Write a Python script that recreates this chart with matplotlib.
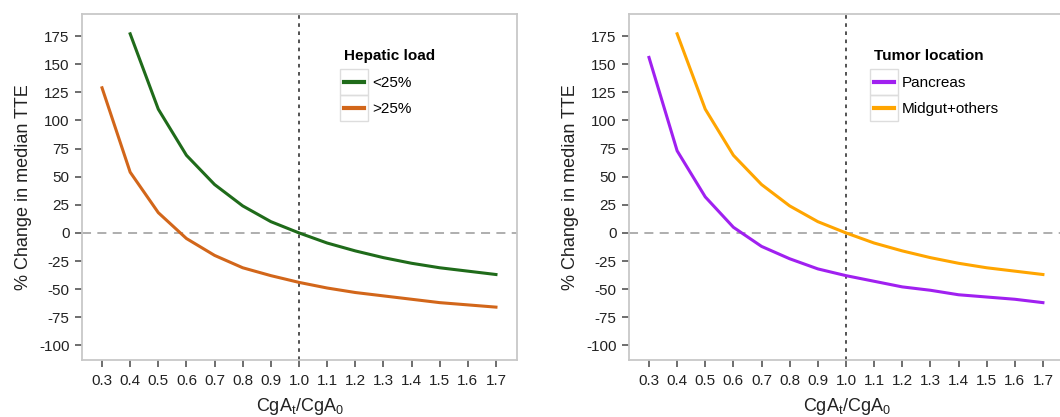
import numpy as np
import matplotlib.pyplot as plt
from matplotlib.patches import Rectangle

plt.rcParams['font.family'] = ['Liberation Sans', 'DejaVu Sans']

# ratio CgA_t / CgA_0
x_all = [0.3, 0.4, 0.5, 0.6, 0.7, 0.8, 0.9, 1.0, 1.1, 1.2, 1.3, 1.4, 1.5, 1.6, 1.7]
x_from04 = x_all[1:]

# % change in median TTE
low_load = [177, 110, 69, 43, 24, 10, 0, -9, -16, -22, -27, -31, -34, -37]          # <25%, starts at 0.4
high_load = [129, 54, 18, -5, -20, -31, -38, -44, -49, -53, -56, -59, -62, -64, -66]  # >25%
pancreas = [156, 73, 32, 5, -12, -23, -32, -38, -43, -48, -51, -55, -57, -59, -62]
midgut = [177, 110, 69, 43, 24, 10, 0, -9, -16, -22, -27, -31, -34, -37]            # starts at 0.4

panels = [
    ('Hepatic load', [(x_from04, low_load, '<25%', '#1f6b1a'),
                      (x_all, high_load, '>25%', '#d2661a')], 0.57),
    ('Tumor location', [(x_all, pancreas, 'Pancreas', '#a020f0'),
                        (x_from04, midgut, 'Midgut+others', '#ffa500')], 0.531),
]

fig = plt.figure(figsize=(10.6, 4.17), dpi=100)
lefts = [0.0774, 0.5934]
xticks = [0.3, 0.4, 0.5, 0.6, 0.7, 0.8, 0.9, 1.0, 1.1, 1.2, 1.3, 1.4, 1.5, 1.6, 1.7]
yticks = [175, 150, 125, 100, 75, 50, 25, 0, -25, -50, -75, -100]

legends = []
for left, (title, series, lx) in zip(lefts, panels):
    ax = fig.add_axes([left, 0.1367, 0.4104, 0.8297])
    ax.axhline(0, color='#a8a8a8', lw=1.3, ls=(0, (5, 3.5)), zorder=1)
    ax.axvline(1.0, color='#444444', lw=1.3, ls=(0, (2, 2.5)), zorder=1)
    for xs, ys, lab, col in series:
        ax.plot(xs, ys, color=col, lw=2.2, label=lab, zorder=3)
    ax.set_xlim(0.229, 1.775)
    ax.set_ylim(-113, 194.6)
    ax.set_xticks(xticks)
    ax.set_xticklabels(['%.1f' % v for v in xticks])
    ax.set_yticks(yticks)
    ax.set_yticklabels([str(v) for v in yticks])
    for s in ax.spines.values():
        s.set_color('#c8c8c8')
        s.set_linewidth(1.3)
    ax.tick_params(axis='both', labelsize=11, length=5, width=1.2,
                   color='#555555', labelcolor='#222222', pad=4)
    ax.tick_params(axis='x', pad=5)
    ax.set_ylabel('% Change in median TTE', fontsize=13, color='#222222', labelpad=5)
    ax.set_xlabel(r'CgA$_\mathregular{t}$/CgA$_\mathregular{0}$', fontsize=13,
                  color='#222222', labelpad=6)
    leg = ax.legend(loc='upper left', bbox_to_anchor=(lx, 0.94), frameon=False,
                    title=title, fontsize=11, handlelength=1.3, handletextpad=0.55,
                    labelspacing=0.75, alignment='left',
                    title_fontproperties={'weight': 'bold', 'size': 11})
    leg._legend_box.sep = 10
    for h in leg.get_lines():
        h.set_linewidth(3)
    legends.append(leg)

# light boxes around the legend keys
fig.canvas.draw()
for leg in legends:
    for h in leg.get_lines():
        bb = h.get_window_extent()
        x0, x1 = bb.x0 - 4, bb.x1 + 4
        yc = (bb.y0 + bb.y1) / 2
        fig.add_artist(Rectangle((x0 / fig.bbox.width, (yc - 13) / fig.bbox.height),
                                 (x1 - x0) / fig.bbox.width, 26 / fig.bbox.height,
                                 transform=fig.transFigure, fill=False,
                                 edgecolor='#dddddd', lw=1.0))

fig.savefig('out.png', dpi=100)
